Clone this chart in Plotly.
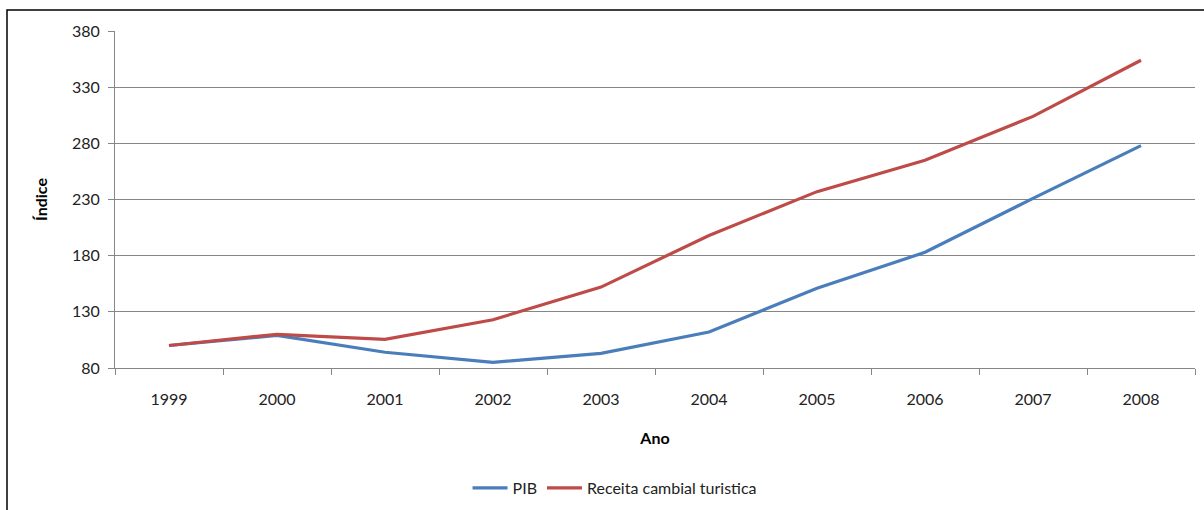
import plotly.graph_objects as go

anos = ["1999", "2000", "2001", "2002", "2003", "2004", "2005", "2006", "2007", "2008"]
pib = [100, 109, 94, 85, 93, 112, 151, 183, 231, 278]
receita = [100, 110, 105.5, 123, 152, 198, 237, 265, 304, 354]
y_ticks = [80, 130, 180, 230, 280, 330, 380]

FONT = "Lato"

fig = go.Figure()
fig.add_trace(go.Scatter(x=anos, y=pib, mode="lines", name="PIB",
                         line=dict(color="#4A7EBB", width=3.2)))
fig.add_trace(go.Scatter(x=anos, y=receita, mode="lines", name="Receita cambial turistica",
                         line=dict(color="#BE4B48", width=3.2)))

fig.update_layout(
    width=1204, height=510,
    margin=dict(l=115, r=9, t=31, b=142, autoexpand=False),
    paper_bgcolor="white", plot_bgcolor="white",
    font=dict(family=FONT, size=16, color="#222"),
    showlegend=True,
    legend=dict(orientation="h", x=0.463, xanchor="center", y=-0.356, yanchor="middle",
                font=dict(size=16), itemwidth=35, tracegroupgap=0),
    shapes=[dict(type="rect", xref="paper", yref="paper",
                 x0=-0.1, x1=1.1, y0=-0.6, y1=1.0623,
                 line=dict(color="black", width=1.5), fillcolor="rgba(0,0,0,0)", layer="below")],
)

fig.update_xaxes(
    type="category", range=[-0.5, 9.5], automargin=False,
    showgrid=False, showline=True, linecolor="#868686", linewidth=1,
    ticks="outside", tickson="boundaries", ticklen=6, tickcolor="#868686",
    ticklabelstandoff=17,
    title=dict(text="<b>Ano</b>", font=dict(size=16, color="black"), standoff=25),
)
fig.update_yaxes(
    range=[80, 380], tickvals=y_ticks, automargin=False,
    showgrid=True, gridcolor="#868686", gridwidth=1,
    showline=True, linecolor="#868686", linewidth=1,
    ticks="outside", ticklen=6, tickcolor="#868686",
    ticklabelstandoff=5, zeroline=False,
    title=dict(text="<b>Índice</b>", font=dict(size=16, color="black"), standoff=20),
)

fig.write_html("out.html")
